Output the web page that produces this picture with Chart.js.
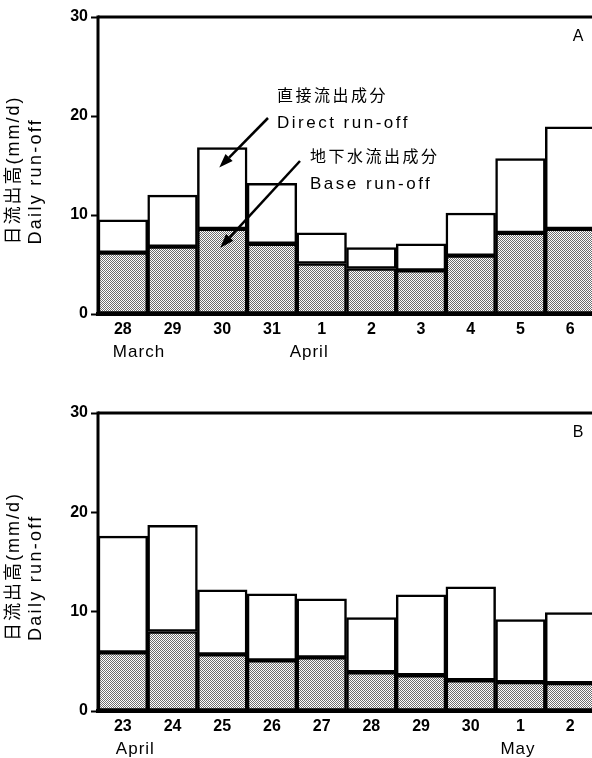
<!DOCTYPE html>
<html>
<head>
<meta charset="utf-8">
<script src="https://cdn.jsdelivr.net/npm/chart.js@4.4.1/dist/chart.umd.min.js"></script>
<style>
    html, body { margin: 0; padding: 0; background: #fff; overflow: hidden; }
    #wrap { position: relative; width: 592px; height: 758px; overflow: hidden; }
    canvas { position: absolute; left: 0; }
    #chartA { top: 0; }
    #chartB { top: 380px; }
</style>
</head>
<body>
<div id="wrap">
    <canvas id="chartA" width="600" height="380"></canvas>
    <canvas id="chartB" width="600" height="378"></canvas>
</div>
<script>
// Panel A: 28 March - 6 April
const daysA = ['28', '29', '30', '31', '1', '2', '3', '4', '5', '6'];
const totalA = [9.5, 12.0, 16.8, 13.2, 8.2, 6.7, 7.1, 10.2, 15.7, 18.9];
const baseA = [6.2, 6.8, 8.6, 7.1, 5.1, 4.6, 4.4, 5.9, 8.2, 8.6];
const monthsA = ['March', 'April'];
const monthIdxA = [0, 4];

// Panel B: 23 April - 2 May
const daysB = ['23', '24', '25', '26', '27', '28', '29', '30', '1', '2'];
const totalB = [17.6, 18.7, 12.2, 11.8, 11.3, 9.4, 11.7, 12.5, 9.2, 9.9];
const baseB = [5.9, 8.0, 5.7, 5.1, 5.4, 3.9, 3.6, 3.1, 2.9, 2.8];
const monthsB = ['April', 'May'];
const monthIdxB = [0, 8];

const yMax = 30;
const yStep = 10;
const yTitle = ['日流出高(mm/d)', 'Daily run-off'];
const directLabel = ['直接流出成分', 'Direct run-off'];
const baseLabel = ['地下水流出成分', 'Base run-off'];

const FONT = '"Liberation Sans", Arial, "Noto Sans CJK JP", sans-serif';

// dotted grey fill like the printed screen tone
function stipple(ctx) {
    const pc = document.createElement('canvas');
    pc.width = 2;
    pc.height = 2;
    const p = pc.getContext('2d');
    p.fillStyle = '#fff';
    p.fillRect(0, 0, 2, 2);
    p.fillStyle = '#6e6e6e';
    p.fillRect(0, 0, 1, 1);
    p.fillRect(1, 1, 1, 1);
    return ctx.createPattern(pc, 'repeat');
}

function arrow(ctx, x1, y1, x2, y2) {
    const ang = Math.atan2(y2 - y1, x2 - x1);
    const len = 14, half = 5;
    const bx = x2 - len * Math.cos(ang), by = y2 - len * Math.sin(ang);
    ctx.beginPath();
    ctx.moveTo(x1, y1);
    ctx.lineTo(bx, by);
    ctx.lineWidth = 2.5;
    ctx.strokeStyle = '#000';
    ctx.stroke();
    ctx.beginPath();
    ctx.moveTo(x2, y2);
    ctx.lineTo(bx + half * Math.sin(ang), by - half * Math.cos(ang));
    ctx.lineTo(bx - half * Math.sin(ang), by + half * Math.cos(ang));
    ctx.closePath();
    ctx.fillStyle = '#000';
    ctx.fill();
}

function framePlugin(panel, months, monthIdx, monthOffsets) {
    return {
        id: 'frame' + panel,
        afterDraw(chart) {
            const ctx = chart.ctx;
            const a = chart.chartArea;
            const x = chart.scales.x;
            const y = chart.scales.y;
            ctx.save();
            ctx.strokeStyle = '#000';
            // frame
            ctx.lineWidth = 3;
            ctx.beginPath();
            ctx.moveTo(a.left, a.top);
            ctx.lineTo(a.right + 10, a.top);
            ctx.stroke();
            ctx.beginPath();
            ctx.moveTo(a.left, a.top - 1.5);
            ctx.lineTo(a.left, a.bottom);
            ctx.stroke();
            ctx.lineWidth = 4;
            ctx.beginPath();
            ctx.moveTo(a.left - 2, a.bottom);
            ctx.lineTo(a.right + 10, a.bottom);
            ctx.stroke();

            ctx.fillStyle = '#000';
            // y title, both lines start from the same low point
            const startY = (a.top + a.bottom) / 2 + 79;
            ctx.font = '18px ' + FONT;
            ctx.textAlign = 'left';
            ctx.textBaseline = 'middle';
            [[14, '2px'], [36, '2.3px']].forEach(([tx, sp], i) => {
                ctx.save();
                ctx.letterSpacing = sp;
                ctx.translate(tx, startY);
                ctx.rotate(-Math.PI / 2);
                ctx.fillText(yTitle[i], 0, 0);
                ctx.restore();
            });

            // month names
            ctx.font = '17px ' + FONT;
            ctx.letterSpacing = '1px';
            months.forEach((m, i) => {
                ctx.fillText(m, x.getPixelForValue(monthIdx[i]) + monthOffsets[i], a.bottom + 38);
            });
            ctx.letterSpacing = '0px';

            // panel letter
            ctx.font = '16px ' + FONT;
            ctx.textAlign = 'center';
            ctx.fillText(panel, 578, a.top + 20);

            if (panel === 'A') {
                ctx.textAlign = 'left';
                ctx.font = '16px ' + FONT;
                ctx.letterSpacing = '2.5px';
                ctx.fillText(directLabel[0], 277, 97);
                ctx.fillText(baseLabel[0], 310, 158);
                ctx.font = '17px ' + FONT;
                ctx.fillText(directLabel[1], 277, 123);
                ctx.fillText(baseLabel[1], 310, 184);
                ctx.letterSpacing = '0px';
                const tipX = x.getPixelForValue(2) - 3;
                arrow(ctx, 268, 118, tipX, y.getPixelForValue(14.8));
                arrow(ctx, 300, 161, tipX + 1, y.getPixelForValue(6.7));
            }
            ctx.restore();
        }
    };
}

function makeChart(id, panel, days, total, base, months, monthIdx, monthOffsets, padTop, xHeight) {
    const canvas = document.getElementById(id);
    const ctx = canvas.getContext('2d');
    const direct = total.map((t, i) => +(t - base[i]).toFixed(2));
    return new Chart(ctx, {
        type: 'bar',
        data: {
            labels: days,
            datasets: [{
                label: 'Base run-off',
                data: base,
                backgroundColor: stipple(ctx),
                borderColor: '#000',
                borderWidth: 2.5,
                borderSkipped: false
            }, {
                label: 'Direct run-off',
                data: direct,
                backgroundColor: '#fff',
                borderColor: '#000',
                borderWidth: 2.5,
                borderSkipped: false
            }]
        },
        options: {
            responsive: false,
            animation: false,
            events: [],
            layout: { padding: { left: 0, top: padTop, right: 5, bottom: 0 } },
            plugins: {
                legend: { display: false },
                tooltip: { enabled: false }
            },
            datasets: {
                bar: { barPercentage: 1, categoryPercentage: 1 }
            },
            scales: {
                x: {
                    stacked: true,
                    grid: { display: false, drawTicks: false },
                    border: { display: false },
                    ticks: {
                        color: '#000',
                        padding: 6,
                        maxRotation: 0,
                        font: { family: FONT, size: 16, weight: 'bold' }
                    },
                    afterFit(s) { s.height = xHeight; }
                },
                y: {
                    stacked: true,
                    min: 0,
                    max: yMax,
                    grid: {
                        drawOnChartArea: false,
                        drawTicks: true,
                        tickLength: 7,
                        tickColor: '#000',
                        tickWidth: 2
                    },
                    border: { display: false },
                    ticks: {
                        stepSize: yStep,
                        color: '#000',
                        padding: 3,
                        font: { family: FONT, size: 16, weight: 'bold' }
                    },
                    afterFit(s) { s.width = 98; }
                }
            }
        },
        plugins: [framePlugin(panel, months, monthIdx, monthOffsets)]
    });
}

makeChart('chartA', 'A', daysA, totalA, baseA, monthsA, monthIdxA, [-10, -32], 17, 66);
makeChart('chartB', 'B', daysB, totalB, baseB, monthsB, monthIdxB, [-7, -20], 33, 47);
</script>
</body>
</html>
